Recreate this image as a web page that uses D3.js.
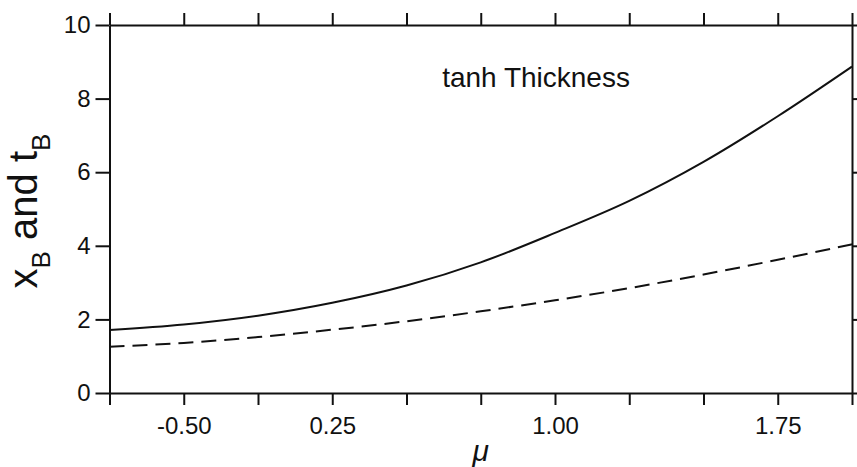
<!DOCTYPE html>
<html>
<head>
<meta charset="utf-8">
<script src="https://cdn.jsdelivr.net/npm/d3@7"></script>
<style>
  body { margin: 0; background: #fff; }
  text { font-family: "Liberation Sans", Arial, sans-serif; fill: #111; }
</style>
</head>
<body>
<svg id="chart" width="857" height="467"></svg>
<script>
// mu values the curves were read at
var muValues = [-0.5, -0.25, 0, 0.25, 0.5, 0.75, 1.0, 1.25, 1.5, 1.75, 2.0];
// solid curve
var xBValues = [1.71, 1.86, 2.10, 2.45, 2.92, 3.55, 4.35, 5.22, 6.28, 7.52, 8.87];
// dashed curve
var tBValues = [1.26, 1.36, 1.52, 1.72, 1.95, 2.22, 2.52, 2.85, 3.22, 3.62, 4.04];

var xMinorTicks = d3.range(-0.5, 2.01, 0.25);
// labelled tick positions and the labels printed under them
var xLabelTicks = [-0.25, 0.25, 1.0, 1.75];
var xTickLabels = ['-0.50', '0.25', '1.00', '1.75'];
var yTicks = [0, 2, 4, 6, 8, 10];

var svg = d3.select('#chart');
var margin = {top: 25, right: 5, bottom: 74, left: 109.5};
var width = 857 - margin.left - margin.right;
var height = 467 - margin.top - margin.bottom;

var x = d3.scaleLinear().domain([-0.5, 2.0]).range([0, width]);
var y = d3.scaleLinear().domain([0, 10]).range([height, 0]);

var g = svg.append('g')
  .attr('transform', 'translate(' + margin.left + ',' + margin.top + ')');

function styleAxis(sel) {
  sel.selectAll('path, line').attr('stroke', '#111').attr('stroke-width', 2);
  sel.selectAll('text').attr('fill', '#111').style('font-size', '24px');
}

// Left axis with numbers.
g.append('g')
  .call(d3.axisLeft(y).tickValues(yTicks).tickSize(14).tickSizeOuter(0).tickPadding(5))
  .call(styleAxis);

// Right axis, ticks only.
g.append('g')
  .attr('transform', 'translate(' + width + ',0)')
  .call(d3.axisRight(y).tickValues(yTicks).tickSize(12).tickSizeOuter(0).tickFormat(''))
  .call(styleAxis);

// Top axis, ticks only.
g.append('g')
  .call(d3.axisTop(x).tickValues(xMinorTicks).tickSize(12).tickSizeOuter(0).tickFormat(''))
  .call(styleAxis);

// Bottom axis: ticks every 0.25, labels only where the figure has them.
var labelFor = function(d) {
  var i = xLabelTicks.indexOf(d);
  return i < 0 ? '' : xTickLabels[i];
};
g.append('g')
  .attr('transform', 'translate(0,' + height + ')')
  .call(d3.axisBottom(x).tickValues(xMinorTicks).tickSize(12).tickSizeOuter(0)
    .tickPadding(12).tickFormat(labelFor))
  .call(styleAxis);

// The two curves.
var line = d3.line()
  .x(function(d, i) { return x(muValues[i]); })
  .y(function(d) { return y(d); })
  .curve(d3.curveMonotoneX);

g.append('path')
  .datum(xBValues)
  .attr('d', line)
  .attr('fill', 'none')
  .attr('stroke', '#111')
  .attr('stroke-width', 2);

g.append('path')
  .datum(tBValues)
  .attr('d', line)
  .attr('fill', 'none')
  .attr('stroke', '#111')
  .attr('stroke-width', 2)
  .attr('stroke-dasharray', '15,8');

// Annotation.
g.append('text')
  .attr('x', x(0.62))
  .attr('y', 62)
  .style('font-size', '28px')
  .text('tanh Thickness');

// Axis titles.
var yTitle = svg.append('text')
  .attr('transform', 'translate(37,211) rotate(-90)')
  .attr('text-anchor', 'middle')
  .style('font-size', '40px');
yTitle.append('tspan').text('x');
yTitle.append('tspan').attr('dy', 13).style('font-size', '26px').text('B');
yTitle.append('tspan').attr('dy', -13).text(' and t');
yTitle.append('tspan').attr('dy', 13).style('font-size', '26px').text('B');

svg.append('text')
  .attr('x', margin.left + x(0.75))
  .attr('y', 461)
  .attr('text-anchor', 'middle')
  .style('font-size', '30px')
  .style('font-style', 'italic')
  .text('\u03bc');
</script>
</body>
</html>
